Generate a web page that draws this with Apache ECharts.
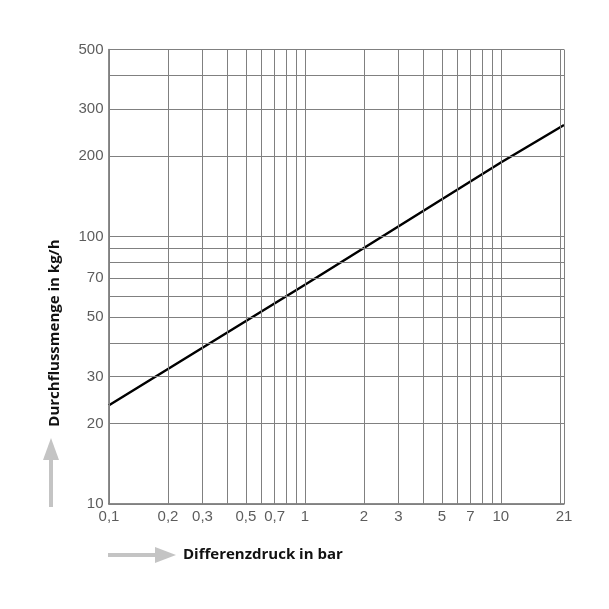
<!DOCTYPE html>
<html>
<head>
<meta charset="utf-8">
<script src="https://cdn.jsdelivr.net/npm/echarts@6/dist/echarts.min.js"></script>
<style>html,body{margin:0;padding:0;background:#fff;}#c{width:609px;height:609px;}</style>
</head>
<body>
<div id="c"></div>
<script>
// Data
var curveX = [0.1, 1, 10, 21];
var curveY = [23.4, 66, 189, 261];
var xGridValues = [0.1,0.2,0.3,0.4,0.5,0.6,0.7,0.8,0.9,1,2,3,4,5,6,7,8,9,10,20,21];
var yGridValues = [10,20,30,40,50,60,70,80,90,100,200,300,400,500];
var xTickValues = [0.1,0.2,0.3,0.5,0.7,1,2,3,5,7,10,21];
var xTickLabels = ['0,1','0,2','0,3','0,5','0,7','1','2','3','5','7','10','21'];
var yTickValues = [10,20,30,50,70,100,200,300,500];
var yTickLabels = ['10','20','30','50','70','100','200','300','500'];
var xTitle = 'Differenzdruck in bar';
var yTitle = 'Durchflussmenge in kg/h';

var chart = echarts.init(document.getElementById('c'), null, {renderer: 'canvas'});
var X_MIN = 0.1, X_MAX = 21, Y_MIN = 10, Y_MAX = 500;
var tickFont = '"Liberation Sans", sans-serif';
var gridColor = '#808080';

var markData = [];
xGridValues.forEach(function (v) { markData.push({xAxis: v}); });
yGridValues.forEach(function (v) { markData.push({yAxis: v}); });

chart.setOption({
  animation: false,
  backgroundColor: '#ffffff',
  grid: {left: 109, top: 49.5, right: 45, bottom: 105, containLabel: false},
  xAxis: {
    type: 'log', logBase: 10, min: X_MIN, max: X_MAX,
    axisLine: {show: true, lineStyle: {color: '#666', width: 1.5}},
    axisTick: {show: false}, axisLabel: {show: false}, splitLine: {show: false}, minorSplitLine: {show: false}
  },
  yAxis: {
    type: 'log', logBase: 10, min: Y_MIN, max: Y_MAX,
    axisLine: {show: true, lineStyle: {color: '#666', width: 1.5}},
    axisTick: {show: false}, axisLabel: {show: false}, splitLine: {show: false}, minorSplitLine: {show: false}
  },
  series: [
    {
      type: 'line', z: 3,
      data: curveX.map(function (x, i) { return [x, curveY[i]]; }),
      showSymbol: false, symbol: 'none',
      lineStyle: {color: '#000', width: 2.5},
      markLine: {
        silent: true, symbol: ['none', 'none'], animation: false,
        label: {show: false},
        lineStyle: {color: gridColor, width: 1, type: 'solid'},
        emphasis: {disabled: true},
        data: markData
      }
    },
    {
      type: 'scatter', clip: false, silent: true, z: 4,
      data: xTickValues.map(function (v) { return [v, Y_MIN]; }),
      symbol: 'circle', symbolSize: 1,
      itemStyle: {color: 'rgba(0,0,0,0)'},
      label: {
        show: true, position: 'bottom', distance: 5,
        formatter: function (p) { return xTickLabels[p.dataIndex]; },
        color: '#333', fontSize: 15, fontFamily: tickFont
      }
    },
    {
      type: 'scatter', clip: false, silent: true, z: 4,
      data: yTickValues.map(function (v) { return [X_MIN, v]; }),
      symbol: 'circle', symbolSize: 1,
      itemStyle: {color: 'rgba(0,0,0,0)'},
      label: {
        show: true, position: 'left', distance: 5,
        formatter: function (p) { return yTickLabels[p.dataIndex]; },
        color: '#333', fontSize: 15, fontFamily: tickFont
      }
    }
  ],
  graphic: [
    {type: 'rect', shape: {x: 49, y: 458, width: 4, height: 49}, style: {fill: '#c4c4c4'}},
    {type: 'polygon', shape: {points: [[43, 460], [59, 460], [51, 438]]}, style: {fill: '#c4c4c4'}},
    {type: 'rect', shape: {x: 108, y: 553, width: 50, height: 4}, style: {fill: '#c4c4c4'}},
    {type: 'polygon', shape: {points: [[155, 547], [155, 563], [176, 555]]}, style: {fill: '#c4c4c4'}},
    {type: 'text', x: 183, y: 555, style: {text: xTitle, fill: '#111', font: 'bold 15px "Open Sans"', textAlign: 'left', textVerticalAlign: 'middle'}},
    {type: 'text', x: 55, y: 333, rotation: Math.PI / 2, style: {text: yTitle, fill: '#111', font: 'bold 15px "Open Sans"', textAlign: 'center', textVerticalAlign: 'middle'}}
  ]
});
</script>
</body>
</html>
